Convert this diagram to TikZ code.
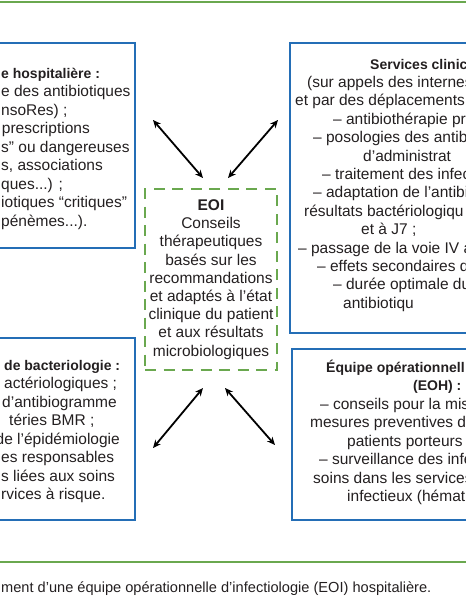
\documentclass[tikz,border=0pt]{standalone}
\usepackage{fontspec}
\setmainfont{Liberation Sans}
\usepackage{xcolor}
\usetikzlibrary{arrows.meta,positioning}
\definecolor{eoigreen}{RGB}{106,168,79}
\definecolor{boxblue}{RGB}{36,110,182}
\definecolor{txtgray}{RGB}{35,31,32}
\newcommand\tridots{...}
\newcommand\hd[1]{{\fontsize{14}{18.2}\selectfont\bfseries #1}}

\begin{document}
\begin{tikzpicture}[x=1pt,y=-1pt,
    txt/.style={inner sep=0pt,text=txtgray,font=\fontsize{15.5}{18.2}\selectfont},
    bluebox/.style={draw=boxblue,line width=2pt},
    rule/.style={draw=eoigreen,line width=2pt},
    link/.style={{Stealth[length=8pt,width=7pt]}-{Stealth[length=8pt,width=7pt]},line width=1.8pt}]
      \useasboundingbox (0,0) rectangle (466,600);
      \clip (0,0) rectangle (466,600);
      \draw[rule] (0,2) -- (466,2);
      \draw[rule] (0,562) -- (466,562);
      \draw[bluebox] (-60,43) rectangle (135,248);
      \draw[bluebox] (290,43) rectangle (520,333);
      \draw[bluebox] (-60,338) rectangle (135,520);
      \draw[bluebox] (292,349) rectangle (520,520);
      \foreach \x/\a/\t [count=\i] in {1/west/{\hd{e hospitalière :}},1/west/e des antibiotiques,
        1/west/nsoRes) ;,90/east/prescriptions,1/west/s” ou dangereuses,1/west/{s, associations},
        1/west/{ques\tridots) ;},1/west/iotiques “critiques”,1/west/{pénèmes\tridots).}}
        \node[txt,anchor=base \a] (pharma\i) at (\x,59.5+18.5*\i) {\t};
      \foreach \x/\t [count=\i] in {370/\hd{Services clinic},307/(sur appels des internes,
        295/et par des déplacements,333/– antibiothérapie pr,313/– posologies des antibi,
        363/d’administrat,322/– traitement des infec,313/– adaptation de l’antibi,
        304/résultats bactériologiqu,361/et à J7 ;,298/– passage de la voie IV a,
        317/– effets secondaires de,333/– durée optimale du,343/antibiotiqu}
        \node[txt,anchor=base west] (clin\i) at (\x,50.6+18.4*\i) {\t};
      \foreach \x/\a/\t [count=\i] in {4/west/\hd{de bacteriologie :},4/west/actériologiques ;,
        117/east/d’antibiogramme,9/west/téries BMR ;,120/east/de l’épidémiologie,
        1/west/es responsables,1/west/s liées aux soins,1/west/rvices à risque.}
        \node[txt,anchor=base \a] (bact\i) at (\x,351.5+18.5*\i) {\t};
      \foreach \x/\t [count=\i] in {326/\hd{Équipe opérationnell},413/\hd{(EOH) :},
        320/– conseils pour la mis,310/mesures preventives d’,347/patients porteurs,
        319/– surveillance des infec,313/soins dans les services,347/infectieux (hémat}
        \node[txt,anchor=base west] (eoh\i) at (\x,353.5+18.5*\i) {\t};
      \node[txt,draw=eoigreen,line width=2.2pt,dash pattern=on 11pt off 7.5pt,
        minimum width=132pt,minimum height=181pt,align=center] (eoi) at (211,279.5)
        {\textbf{EOI}\\Conseils\\thérapeutiques\\basés sur les\\recommandations\\
         et adaptés à l’état\\clinique du patient\\et aux résultats\\microbiologiques};
      \coordinate (a1) at (153,120); \coordinate (a2) at (203,178);
      \coordinate (b1) at (228,178); \coordinate (b2) at (278,120);
      \coordinate (c1) at (203,388); \coordinate (c2) at (153,448);
      \coordinate (d1) at (225,388); \coordinate (d2) at (275,445);
      \draw[link] (a1) -- (a2);
      \draw[link] (b1) -- (b2);
      \draw[link] (c1) -- (c2);
      \draw[link] (d1) -- (d2);
      \node[txt,anchor=base west,font=\fontsize{14.6}{17}\selectfont] (caption) at (1,592)
        {ment d’une équipe opérationnelle d’infectiologie (EOI) hospitalière.};
    \end{tikzpicture}
\end{document}
